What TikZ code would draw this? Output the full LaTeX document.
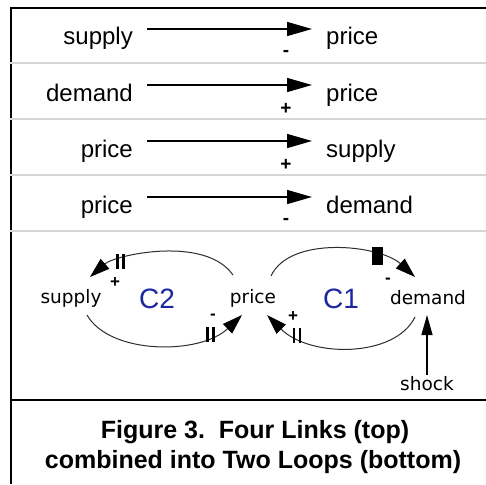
\documentclass[tikz,border=0pt]{standalone}
\usepackage{fontspec}
\setmainfont{Liberation Sans}
\newfontfamily\handfont{DejaVu Sans}
\usetikzlibrary{arrows.meta}
\definecolor{loopblue}{RGB}{28,38,160}
\definecolor{sepgray}{RGB}{214,214,214}
\definecolor{arcgray}{RGB}{45,45,45}
\begin{document}
\begin{tikzpicture}[x=1pt,y=-1pt,
  lefttxt/.style={font=\fontsize{24}{28}\selectfont, inner sep=0pt, anchor=base east},
  righttxt/.style={font=\fontsize{24}{28}\selectfont, inner sep=0pt, anchor=base west},
  sgn/.style={font=\fontsize{19}{19}\selectfont\bfseries, inner sep=0pt},
  lsgn/.style={font=\fontsize{17}{17}\selectfont\bfseries, inner sep=0pt},
  linkarrow/.style={line width=1.4pt, -{Triangle[length=25pt,width=14pt]}},
  looparc/.style={arcgray, line width=1pt, -{Triangle[length=20pt,width=13pt,fill=black,color=black]}},
  handtxt/.style={font=\handfont\fontsize{18.5}{20}\selectfont, inner sep=0pt},
  looplbl/.style={font=\fontsize{28}{30}\selectfont, text=loopblue, inner sep=0pt},
  hbar/.style={black, line width=2.8pt},
  capt/.style={font=\fontsize{25}{30}\selectfont\bfseries, inner sep=0pt, anchor=base},
  sep/.style={sepgray, line width=2pt},
  frame/.style={black, line width=2.6pt}
]
\useasboundingbox (0,0) rectangle (486,484);
\fill[white] (0,0) rectangle (486,484);

% frame
\draw[frame] (11,7) -- (11,484);
\draw[black, line width=2.2pt] (10,8) -- (486,8);
\draw[frame] (11,400) -- (486,400);
\foreach \yy in {63,119,175,231} \draw[sep] (9.5,\yy) -- (486,\yy);

% four links
\foreach \k/\a/\b/\s in {0/supply/price/-, 1/demand/price/+, 2/price/supply/+, 3/price/demand/-}{
  \node[lefttxt] (from\k) at (133,45+56*\k) {\a};
  \node[righttxt] (to\k) at (326,45+56*\k) {\b};
  \coordinate (s\k) at (147,29+56*\k);
  \coordinate (e\k) at (312,29+56*\k);
  \draw[linkarrow] (s\k) -- (e\k);
  \node[sgn] (sg\k) at (286,53+56*\k) {\s};
}

% two loops
\node[handtxt] (supply) at (71,298) {supply};
\node[handtxt] (price) at (253,298) {price};
\node[handtxt] (demand) at (428,298) {demand};
\node[handtxt] (shock) at (427,384) {shock};
\node[looplbl] (c2) at (157,299) {C2};
\node[looplbl] (c1) at (341,299) {C1};

\coordinate (pA) at (233,275);
\coordinate (sA) at (90,277);
\coordinate (sB) at (87,315);
\coordinate (pB) at (242,315);
\coordinate (pC) at (271,276);
\coordinate (dC) at (415,277);
\coordinate (dD) at (415,317);
\coordinate (pD) at (267,315);
\coordinate (dIn) at (427,315);

% C2 top: price -> supply
\draw[looparc] (pA) .. controls (205,235) and (115,255) .. (sA) coordinate[pos=0.74] (hA);
% C2 bottom: supply -> price
\draw[looparc] (sB) .. controls (110,355) and (200,355) .. (pB) coordinate[pos=0.79] (hB);
% C1 top: price -> demand
\draw[looparc] (pC) .. controls (290,235) and (380,245) .. (dC) coordinate[pos=0.73] (hC);
% C1 bottom: demand -> price
\draw[looparc] (dD) .. controls (395,358) and (310,358) .. (pD) coordinate[pos=0.8] (hD);

% delay marks
\foreach \h in {hA,hB,hD}{
  \draw[hbar] ([xshift=-3pt]\h) ++(0,-7.5) -- ++(0,15);
  \draw[hbar] ([xshift=3pt]\h) ++(0,-7.5) -- ++(0,15);
}
\node[fill=black, minimum width=11pt, minimum height=18pt, inner sep=0pt] (rC) at (hC) {};

% loop signs
\node[lsgn] (sgA) at (115,283) {+};
\node[lsgn] (sgB) at (213,317) {-};
\node[lsgn] (sgC) at (388,281) {-};
\node[lsgn] (sgD) at (293,317) {+};

% shock
\draw[line width=1.1pt, -{Triangle[length=20pt,width=11pt]}] (shock.north) ++(0,-2) -- (dIn);

% caption
\node[capt] (cap1) at (255,438) {Figure 3.\ \ Four Links (top)};
\node[capt] (cap2) at (253,468) {combined into Two Loops (bottom)};
\end{tikzpicture}
\end{document}
